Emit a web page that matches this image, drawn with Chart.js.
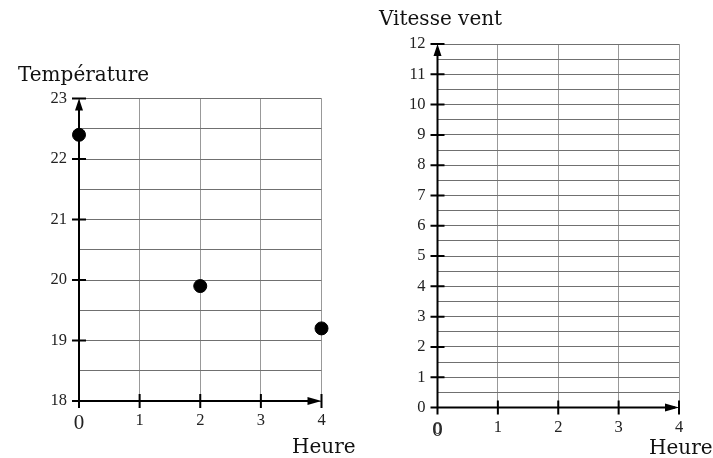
<!DOCTYPE html>
<html>
<head>
<meta charset="utf-8">
<script src="https://cdn.jsdelivr.net/npm/chart.js@4.4.0/dist/chart.umd.min.js"></script>
<style>
  html, body { margin: 0; padding: 0; background: #fff; }
  body { width: 713px; height: 458px; position: relative; overflow: hidden; }
  canvas { position: absolute; top: 0; }
  #tempChart { left: 0; }
  #ventChart { left: 365px; }
</style>
</head>
<body>
<canvas id="tempChart" width="365" height="458"></canvas>
<canvas id="ventChart" width="348" height="458"></canvas>
<script>
const heures = [0, 2, 4];
const temperatures = [22.4, 19.9, 19.2];
const heureRange = [0, 4];
const tempRange = [18, 23];
const ventRange = [0, 12];
const ventValues = [];

const serif = "'Liberation Serif', 'DejaVu Serif', serif";
const titleFont = "'DejaVu Serif', serif";

// axes noirs avec fleches, graduations et titres
const repere = {
  id: 'repere',
  afterDraw(chart, args, opts) {
    const ctx = chart.ctx;
    const x = chart.scales.x, y = chart.scales.y;
    const x0 = x.getPixelForValue(x.min), x1 = x.getPixelForValue(x.max);
    const y0 = y.getPixelForValue(y.min), y1 = y.getPixelForValue(y.max);
    ctx.save();
    ctx.strokeStyle = '#000';
    ctx.fillStyle = '#000';
    ctx.lineWidth = 2;
    ctx.beginPath();
    ctx.moveTo(x0, y0); ctx.lineTo(x1 - 4, y0);
    ctx.moveTo(x0, y0); ctx.lineTo(x0, y1 + 4);
    for (let v = Math.ceil(y.min); v <= y.max; v++) {
      const py = y.getPixelForValue(v);
      ctx.moveTo(x0 - 7, py); ctx.lineTo(x0 + 7, py);
    }
    for (let v = Math.ceil(x.min); v <= x.max; v++) {
      const px = x.getPixelForValue(v);
      ctx.moveTo(px, y0 - 7); ctx.lineTo(px, y0 + 7);
    }
    ctx.stroke();
    ctx.beginPath();
    ctx.moveTo(x0, y1); ctx.lineTo(x0 - 4, y1 + 12); ctx.lineTo(x0 + 4, y1 + 12); ctx.closePath();
    ctx.moveTo(x1, y0); ctx.lineTo(x1 - 14, y0 - 4); ctx.lineTo(x1 - 14, y0 + 4); ctx.closePath();
    ctx.fill();

    ctx.fillStyle = '#111';
    ctx.textBaseline = 'alphabetic';
    ctx.font = '20px ' + titleFont;
    ctx.fillText(opts.yTitle, opts.yTitleAt[0], opts.yTitleAt[1]);
    ctx.fillText('Heure', opts.xTitleAt[0], opts.xTitleAt[1]);
    if (opts.doubleZero) {
      ctx.font = '16px ' + serif;
      ctx.textAlign = 'center';
      ctx.textBaseline = 'middle';
      ctx.fillStyle = '#333';
      ctx.fillText('0', x0, opts.doubleZero);
    }
    ctx.restore();
  }
};

function makeChart(id, yRange, points, pad, yWidth, xHeight, titles) {
  return new Chart(document.getElementById(id), {
    type: 'scatter',
    data: {
      datasets: [{
        data: points,
        backgroundColor: '#000',
        borderColor: '#000',
        pointRadius: 6.5,
        pointHoverRadius: 6.5,
        clip: false
      }]
    },
    options: {
      responsive: false,
      animation: false,
      layout: { padding: pad },
      plugins: { legend: { display: false }, tooltip: { enabled: false }, repere: titles },
      scales: {
        x: {
          type: 'linear',
          min: heureRange[0], max: heureRange[1],
          border: { display: false },
          grid: { color: '#999', lineWidth: 1, drawTicks: false },
          afterFit: s => { s.height = xHeight; },
          ticks: {
            stepSize: 1, autoSkip: false, maxRotation: 0, padding: 10,
            color: '#222',
            font: c => (c.tick && c.tick.value === 0) ? { family: serif, size: 21 } : { family: serif, size: 16.5 }
          }
        },
        y: {
          min: yRange[0], max: yRange[1],
          border: { display: false },
          grid: { color: '#707070', lineWidth: 1, drawTicks: false },
          afterFit: s => { s.width = yWidth; },
          ticks: {
            stepSize: 0.5, autoSkip: false, padding: 12,
            color: '#222',
            font: { family: serif, size: 16.5 },
            callback: v => Number.isInteger(v) ? v : ''
          }
        }
      }
    },
    plugins: [repere]
  });
}

makeChart('tempChart', tempRange,
  heures.map((h, i) => ({ x: h, y: temperatures[i] })),
  { left: 0, right: 43.5, top: 98.5, bottom: 0 }, 79, 57,
  { yTitle: 'Température', yTitleAt: [18, 81], xTitleAt: [292, 453] });

makeChart('ventChart', ventRange,
  ventValues,
  { left: 0, right: 34, top: 44, bottom: 0 }, 72.5, 50.5,
  { yTitle: 'Vitesse vent', yTitleAt: [14, 25], xTitleAt: [284, 454], doubleZero: 430 });
</script>
</body>
</html>
